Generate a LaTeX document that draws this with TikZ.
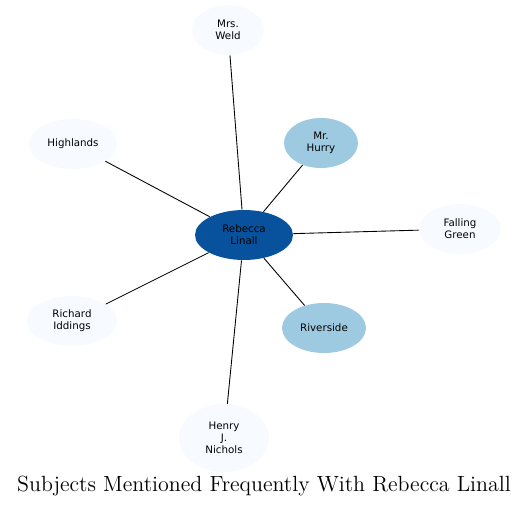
\documentclass[tikz,border=0pt]{standalone}
\usepackage{fontspec}
\newfontfamily\nodefont{DejaVu Sans}
\usetikzlibrary{shapes.geometric}

\definecolor{hubblue}{HTML}{08519C}
\definecolor{midblue}{HTML}{9ECAE1}
\definecolor{paleblue}{HTML}{F7FBFF}

\tikzset{
  subject/.style={ellipse, draw=none, inner sep=0pt, align=center,
    font=\nodefont\fontsize{5.85}{6.9}\selectfont},
  link/.style={draw=black, line width=0.5pt}
}

\begin{document}
\begin{tikzpicture}[x=0.02cm, y=-0.02cm]
    \useasboundingbox (0,0) rectangle (529,508);

    \node[subject, fill=hubblue, minimum width=1.96cm, minimum height=1cm] (rebecca) at (244,235) {Rebecca\\Linall};
    \node[subject, fill=paleblue, minimum width=1.44cm, minimum height=1cm] (weld) at (228,30) {Mrs.\\Weld};
    \node[subject, fill=midblue, minimum width=1.48cm, minimum height=1cm] (hurry) at (321,143) {Mr.\\Hurry};
    \node[subject, fill=paleblue, minimum width=1.76cm, minimum height=1cm] (highlands) at (73,144) {Highlands};
    \node[subject, fill=paleblue, minimum width=1.64cm, minimum height=1cm] (falling) at (460,229) {Falling\\Green};
    \node[subject, fill=paleblue, minimum width=1.8cm, minimum height=1cm] (iddings) at (72,321) {Richard\\Iddings};
    \node[subject, fill=midblue, minimum width=1.68cm, minimum height=1cm] (riverside) at (324,328) {Riverside};
    \node[subject, fill=paleblue, minimum width=1.8cm, minimum height=1.36cm] (nichols) at (224,438) {Henry\\J.\\Nichols};

    % links from the hub
    \draw[link] (rebecca) -- (weld);
    \draw[link] (rebecca) -- (hurry);
    \draw[link] (rebecca) -- (highlands);
    \draw[link] (rebecca) -- (falling);
    \draw[link] (rebecca) -- (iddings);
    \draw[link] (rebecca) -- (riverside);
    \draw[link] (rebecca) -- (nichols);

    \node[font=\fontsize{12.5}{14}\selectfont] (title) at (264,486) {Subjects Mentioned Frequently With Rebecca Linall};
  \end{tikzpicture}
\end{document}
